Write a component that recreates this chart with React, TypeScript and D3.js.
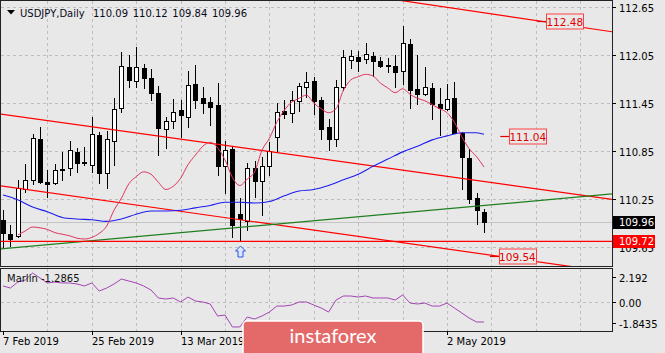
import React, { useEffect, useRef } from "react";
import * as d3 from "d3";

// USDJPY daily candles, 7 Feb .. 9 May 2019
const openP = [109.99, 109.81, 109.79, 110.37, 110.49, 111.0, 110.46, 110.45, 110.61, 110.64,
  110.84, 110.71, 110.67, 111.05, 110.57, 110.98, 111.39, 111.9, 111.73, 111.89,
  111.76, 111.58, 111.13, 111.23, 111.36, 111.28, 111.69, 111.51, 111.46, 111.43,
  110.66, 110.87, 110.06, 109.97, 110.64, 110.47, 110.66, 111.03, 111.35, 111.33,
  111.48, 111.65, 111.73, 111.49, 111.15, 111.0, 111.65, 111.99, 112.03, 112.0,
  112.04, 111.98, 111.93, 111.91, 111.85, 112.19, 111.63, 111.56, 111.64, 111.44,
  111.38, 111.51, 111.08, 110.76, 110.26, 110.09];
const highP = [110.11, 109.92, 110.49, 110.69, 111.06, 111.15, 110.61, 110.69, 110.84, 110.98,
  110.89, 110.9, 111.28, 111.09, 111.1, 111.51, 112.09, 112.05, 112.15, 111.94,
  111.88, 111.66, 111.28, 111.5, 111.49, 111.85, 111.93, 111.65, 111.53, 111.7,
  110.98, 110.9, 110.26, 110.7, 110.72, 110.77, 110.96, 111.45, 111.49, 111.6,
  111.7, 111.84, 111.78, 111.53, 111.25, 111.74, 112.11, 112.11, 112.1, 112.2,
  112.09, 112.03, 112.01, 112.05, 112.41, 112.25, 112.05, 111.9, 111.7, 111.64,
  111.69, 111.71, 111.09, 110.88, 110.32, 110.12];
const lowP = [109.64, 109.66, 109.77, 110.34, 110.44, 110.45, 110.27, 110.44, 110.49, 110.55,
  110.59, 110.67, 110.59, 110.45, 110.39, 110.67, 111.34, 111.65, 111.65, 111.64,
  111.49, 110.8, 110.89, 111.14, 111.03, 111.15, 111.39, 111.33, 111.18, 110.55,
  110.32, 109.77, 109.72, 109.86, 110.27, 110.05, 110.55, 110.84, 111.26, 111.21,
  111.35, 111.53, 111.31, 111.0, 110.86, 110.91, 111.61, 111.89, 111.85, 111.95,
  111.79, 111.9, 111.84, 111.65, 111.69, 111.39, 111.44, 111.55, 111.25, 111.05,
  111.36, 111.07, 110.37, 110.2, 109.94, 109.84];
const closeP = [109.82, 109.75, 110.39, 110.49, 111.01, 110.46, 110.44, 110.61, 110.62, 110.86,
  110.7, 110.7, 111.06, 110.57, 111.0, 111.38, 111.91, 111.74, 111.9, 111.76,
  111.58, 111.14, 111.23, 111.34, 111.3, 111.68, 111.49, 111.45, 111.4, 110.66,
  110.86, 109.92, 110.0, 110.64, 110.47, 110.66, 110.85, 111.34, 111.31, 111.49,
  111.66, 111.71, 111.48, 111.13, 111.0, 111.65, 112.03, 112.04, 111.98, 112.06,
  111.98, 111.91, 111.92, 111.84, 112.2, 111.61, 111.56, 111.65, 111.44, 111.39,
  111.5, 111.08, 110.77, 110.25, 110.11, 109.96];

// red (fast) moving average, from bar 2 on
const redStart = 2;
const redMA = [109.8, 109.85, 109.9, 109.89, 109.87, 109.83, 109.81, 109.79, 109.76, 109.75,
  109.77, 109.82, 109.91, 110.11, 110.26, 110.44, 110.53, 110.59, 110.56, 110.46,
  110.37, 110.41, 110.51, 110.68, 110.8, 110.91, 110.96, 110.89, 110.74, 110.52,
  110.42, 110.5, 110.59, 110.86, 111.01, 111.21, 111.36, 111.46, 111.51, 111.55,
  111.45, 111.38, 111.33, 111.38, 111.61, 111.74, 111.78, 111.81, 111.79, 111.7,
  111.64, 111.58, 111.63, 111.56, 111.51, 111.48, 111.43, 111.38, 111.33, 111.21,
  111.03, 110.88, 110.78, 110.65];

// blue (slow) moving average, read at these bars
const blueBars = [0, 2, 4, 6, 8, 10, 12, 14, 16, 18, 20, 22, 24, 26, 28, 30, 32, 34, 36, 38,
  40, 42, 44, 46, 48, 50, 52, 54, 56, 58, 60, 62, 64, 65];
const blueMA = [110.3, 110.24, 110.15, 110.09, 110.02, 110.0, 109.99, 109.97, 110.0, 110.06,
  110.1, 110.1, 110.11, 110.14, 110.17, 110.21, 110.21, 110.2, 110.22, 110.29,
  110.35, 110.37, 110.42, 110.49, 110.56, 110.66, 110.75, 110.84, 110.91, 110.99,
  111.04, 111.08, 111.08, 111.06];

// Marlin oscillator
const marlin = [1.39, 1.21, 1.73, 1.9, 2.51, 2.08, 1.65, 1.73, 1.65, 1.65,
  1.56, 1.39, 1.65, 0.95, 1.21, 1.56, 1.99, 1.82, 1.65, 1.39,
  1.04, 0.35, 0.26, 0.35, 0.0, 0.43, 0.09, 0.0, -0.17, -1.21,
  -1.13, -2.16, -2.16, -1.3, -1.47, -1.21, -0.87, -0.35, -0.35, -0.26,
  0.0, 0.0, -0.26, -0.52, -0.87, 0.17, 0.52, 0.52, 0.43, 0.52,
  0.35, 0.35, 0.35, 0.17, 0.61, -0.09, -0.17, -0.09, -0.35, -0.35,
  -0.09, -0.52, -0.95, -1.39, -1.73, -1.73];
const marlinLabel = "Marlin -1.2865";

const dateLabels = ["7 Feb 2019", "25 Feb 2019", "13 Mar 2019", "2 May 2019"];
const dateBars = [0, 12, 24, 60];
const priceTicks = [112.65, 112.05, 111.45, 110.85, 110.25, 109.65];
const marlinTicks = [2.192, 0, -1.8435];
const marlinTickLabels = ["2.192", "0.00", "-1.8435"];

// trend lines as [bar, price] pairs
const trendLines = [
  { a: [0, 111.31], b: [65, 110.47], color: "#ff0000" },
  { a: [0, 110.41], b: [65, 109.56], color: "#ff0000" },
  { a: [55, 112.717], b: [65, 112.58], color: "#ff0000" },
  { a: [0, 109.63], b: [65, 110.17], color: "#1f7f1f" },
];
const supportLevel = 109.72;
const levelNotes = [
  { value: 112.48, bar: 72.2 },
  { value: 111.04, bar: 67.2 },
  { value: 109.54, bar: 65.8 },
];
const arrowBar = 32;

const W = 665, H = 353;
const FONT = "'DejaVu Sans', Tahoma, sans-serif";

export default function App() {
  const ref = useRef<SVGSVGElement>(null);

  useEffect(() => {
    const svg = d3.select(ref.current);
    svg.selectAll("*").remove();

    const left = 0, right = 612;
    const mainTop = 0, mainBot = 266;
    const indTop = 268, indBot = 331;

    const x = d3.scaleLinear().domain([0, 65]).range([3, 484]);
    const y = d3.scaleLinear().domain([109.65, 112.65]).range([247, 7.2]);
    const ym = d3.scaleLinear().domain([-1.8435, 2.192]).range([323.3, 276.7]);
    const px = (i: number) => Math.round(x(i)) + 0.5;

    svg.append("rect").attr("width", W).attr("height", H).attr("fill", "#e8e8e8");

    const defs = svg.append("defs");
    defs.append("clipPath").attr("id", "clipMain").append("rect")
      .attr("x", left + 1).attr("y", mainTop + 1).attr("width", right - left - 1).attr("height", mainBot - mainTop - 1);
    defs.append("clipPath").attr("id", "clipInd").append("rect")
      .attr("x", left + 1).attr("y", indTop + 1).attr("width", right - left - 1).attr("height", indBot - indTop - 1);

    // grid
    const grid = svg.append("g").attr("stroke", "#bdbdbd").attr("stroke-dasharray", "3,3")
      .attr("shape-rendering", "crispEdges");
    const vBars = d3.range(6, 80, 6);
    vBars.forEach(b => {
      const gx = px(b);
      if (gx > right) return;
      grid.append("line").attr("x1", gx).attr("x2", gx).attr("y1", mainTop + 1).attr("y2", mainBot);
      grid.append("line").attr("x1", gx).attr("x2", gx).attr("y1", indTop + 1).attr("y2", indBot);
    });
    priceTicks.forEach(p => {
      const gy = Math.round(y(p)) + 0.5;
      grid.append("line").attr("x1", left + 1).attr("x2", right).attr("y1", gy).attr("y2", gy);
    });
    grid.append("line").attr("x1", left + 1).attr("x2", right)
      .attr("y1", Math.round(ym(0)) + 0.5).attr("y2", Math.round(ym(0)) + 0.5);

    const main = svg.append("g").attr("clip-path", "url(#clipMain)");

    // bid line
    const last = closeP.length - 1;
    const bidY = Math.round(y(closeP[last])) + 0.5;
    main.append("line").attr("x1", left).attr("x2", right).attr("y1", bidY).attr("y2", bidY)
      .attr("stroke", "#c4c4c4");

    // candles
    const cg = main.append("g").attr("shape-rendering", "crispEdges");
    openP.forEach((o, i) => {
      const c = closeP[i];
      const cx = px(i);
      cg.append("line").attr("x1", cx).attr("x2", cx)
        .attr("y1", Math.round(y(highP[i]))).attr("y2", Math.round(y(lowP[i])) + 1)
        .attr("stroke", "#000");
      const top = Math.round(y(Math.max(o, c)));
      const bot = Math.round(y(Math.min(o, c)));
      const bull = c >= o;
      cg.append("rect")
        .attr("x", cx - 2).attr("y", top + 0.5)
        .attr("width", 4).attr("height", Math.max(bot - top, 1))
        .attr("fill", bull ? "#ffffff" : "#000000")
        .attr("stroke", "#000");
    });

    // trend lines, extended across the panel
    const b0 = x.invert(left), b1 = x.invert(right);
    trendLines.forEach(t => {
      const slope = (t.b[1] - t.a[1]) / (t.b[0] - t.a[0]);
      const at = (b: number) => t.a[1] + slope * (b - t.a[0]);
      main.append("line")
        .attr("x1", x(b0)).attr("y1", y(at(b0)))
        .attr("x2", x(b1)).attr("y2", y(at(b1)))
        .attr("stroke", t.color).attr("stroke-width", 1.2);
    });
    const supY = y(supportLevel);
    main.append("line").attr("x1", left).attr("x2", right).attr("y1", supY).attr("y2", supY)
      .attr("stroke", "#ff0000").attr("stroke-width", 1.2);

    // moving averages
    const blueLine = d3.line<number>().x((_, k) => x(blueBars[k])).y(d => y(d)).curve(d3.curveMonotoneX);
    main.append("path").attr("d", blueLine(blueMA)).attr("fill", "none")
      .attr("stroke", "#1c1cf0").attr("stroke-width", 1.1);
    const redLine = d3.line<number>().x((_, k) => x(k + redStart)).y(d => y(d)).curve(d3.curveMonotoneX);
    main.append("path").attr("d", redLine(redMA)).attr("fill", "none")
      .attr("stroke", "#e0345c").attr("stroke-width", 1);

    // low marker arrow
    const ax = px(arrowBar), ay = Math.round(y(lowP[arrowBar])) + 5;
    main.append("path")
      .attr("d", `M${ax},${ay} l5,5 h-2.5 v6 h-5 v-6 h-2.5 Z`)
      .attr("fill", "#dde6ff").attr("stroke", "#2a55e0").attr("stroke-width", 1);

    // level notes
    levelNotes.forEach(n => {
      const ny = Math.round(y(n.value)) + 0.5;
      const lx = x(n.bar);
      main.append("line").attr("x1", lx).attr("x2", lx + 9).attr("y1", ny).attr("y2", ny)
        .attr("stroke", "#e00000").attr("stroke-width", 1.2);
      main.append("rect").attr("x", Math.round(lx + 9) + 0.5).attr("y", ny - 7.5)
        .attr("width", 37).attr("height", 15)
        .attr("fill", "#e8e8e8").attr("stroke", "#ff4040");
      main.append("text").attr("x", lx + 9 + 18.5).attr("y", ny + 4)
        .attr("text-anchor", "middle").attr("font-family", FONT).attr("font-size", 10.5)
        .attr("fill", "#e00000").text(n.value.toFixed(2));
    });

    // marlin
    const ind = svg.append("g").attr("clip-path", "url(#clipInd)");
    const mLine = d3.line<number>().x((_, i) => x(i)).y(d => ym(d));
    ind.append("path").attr("d", mLine(marlin)).attr("fill", "none")
      .attr("stroke", "#a444b4").attr("stroke-width", 1);
    svg.append("text").attr("x", 7).attr("y", 282).attr("font-family", FONT).attr("font-size", 10)
      .attr("fill", "#111").text(marlinLabel);

    // panel frames
    const frame = svg.append("g").attr("fill", "none").attr("stroke", "#222").attr("shape-rendering", "crispEdges");
    frame.append("rect").attr("x", left + 0.5).attr("y", mainTop + 0.5).attr("width", right - left).attr("height", mainBot - mainTop);
    frame.append("rect").attr("x", left + 0.5).attr("y", indTop + 0.5).attr("width", right - left).attr("height", indBot - indTop);

    // price axis
    const axisG = svg.append("g").attr("font-family", FONT).attr("font-size", 10).attr("fill", "#000");
    priceTicks.forEach(p => {
      const ty = Math.round(y(p)) + 0.5;
      axisG.append("line").attr("x1", right).attr("x2", right + 4).attr("y1", ty).attr("y2", ty)
        .attr("stroke", "#000").attr("shape-rendering", "crispEdges");
      axisG.append("text").attr("x", right + 7).attr("y", ty + 4).text(p.toFixed(2));
    });
    marlinTicks.forEach((m, k) => {
      const ty = Math.round(ym(m)) + 0.5;
      axisG.append("line").attr("x1", right).attr("x2", right + 4).attr("y1", ty).attr("y2", ty)
        .attr("stroke", "#000").attr("shape-rendering", "crispEdges");
      axisG.append("text").attr("x", right + 7).attr("y", ty + 4).text(marlinTickLabels[k]);
    });

    // price labels at axis
    const tagAt = (val: number, fill: string) => {
      const ty = Math.round(y(val));
      svg.append("rect").attr("x", right + 1).attr("y", ty - 6).attr("width", 42).attr("height", 13)
        .attr("fill", fill);
      svg.append("text").attr("x", right + 7).attr("y", ty + 4).attr("font-family", FONT)
        .attr("font-size", 10).attr("fill", "#fff").text(val.toFixed(2));
    };
    tagAt(closeP[last], "#000");
    tagAt(supportLevel, "#ff0000");

    // date axis
    dateBars.forEach((b, k) => {
      const dx = px(b);
      svg.append("line").attr("x1", dx).attr("x2", dx).attr("y1", indBot).attr("y2", indBot + 4)
        .attr("stroke", "#000").attr("shape-rendering", "crispEdges");
      svg.append("text").attr("x", dx - 0.5).attr("y", 345).attr("font-family", FONT).attr("font-size", 10)
        .attr("fill", "#000").text(dateLabels[k]);
    });

    // header
    svg.append("path").attr("d", "M7,10 h8 l-4,4.5 Z").attr("fill", "#000");
    svg.append("text").attr("x", 20).attr("y", 17).attr("font-family", FONT).attr("font-size", 10)
      .attr("fill", "#0a0a1a").text("USDJPY,Daily");
    svg.append("text").attr("x", 93).attr("y", 17).attr("font-family", FONT).attr("font-size", 10)
      .attr("fill", "#0a0a1a").attr("word-spacing", 1.5)
      .text([openP[last], highP[last], lowP[last], closeP[last]].map(v => v.toFixed(2)).join(" "));

    // watermark
    svg.append("rect").attr("x", 243).attr("y", 321).attr("width", 180).attr("height", 36).attr("rx", 4)
      .attr("fill", "#e46a6a").attr("stroke", "#ffffff").attr("stroke-width", 1.5);
    svg.append("text").attr("x", 333).attr("y", 343).attr("text-anchor", "middle")
      .attr("font-family", "Lato, 'Open Sans', sans-serif").attr("font-size", 20).attr("fill", "#ffffff")
      .text("instaforex");
  }, []);

  return (
    <svg ref={ref} width={W} height={H}
      style={{ position: "absolute", left: 0, top: 0, display: "block" }} />
  );
}
